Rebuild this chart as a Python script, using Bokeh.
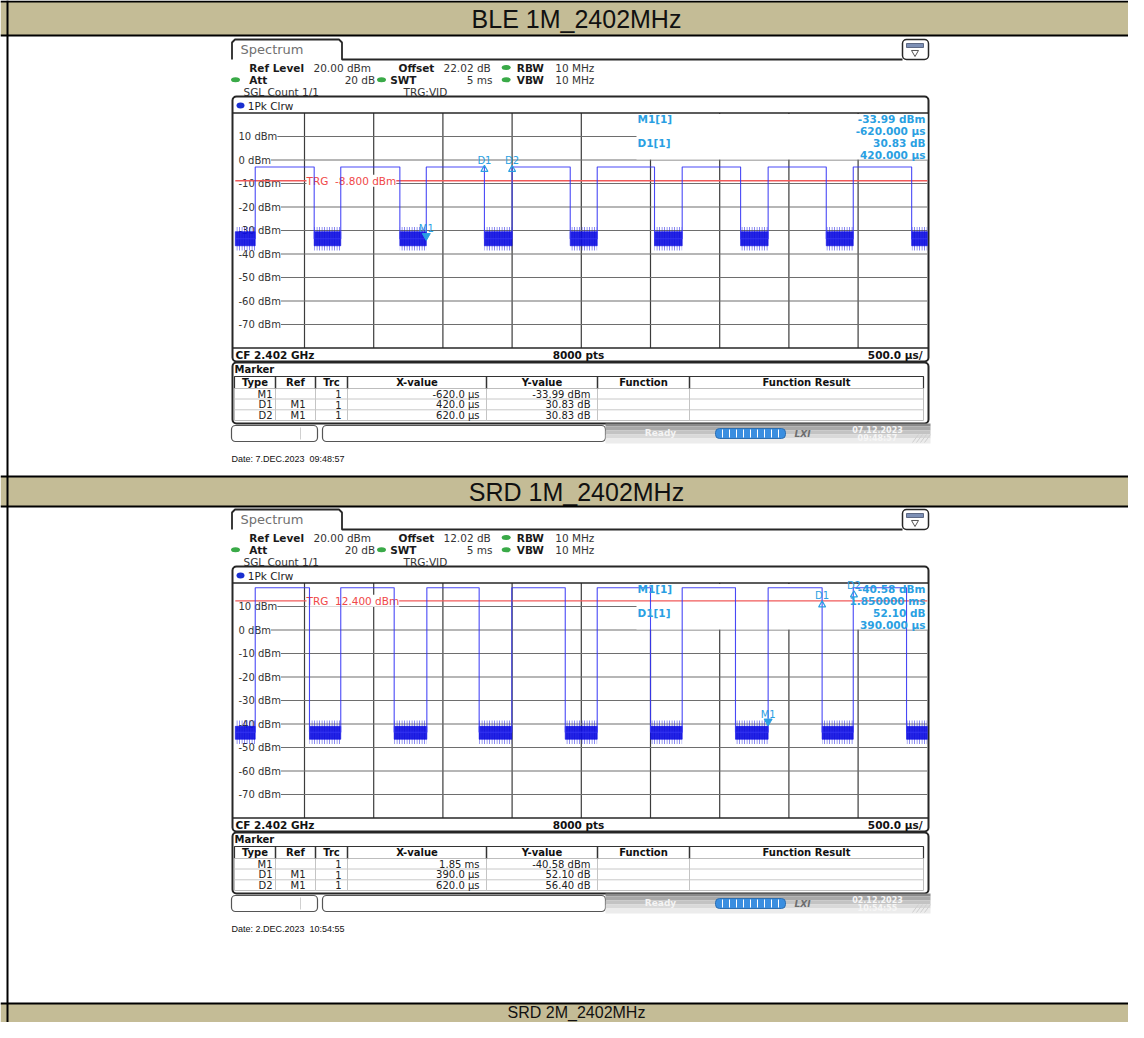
from bokeh.plotting import figure
from bokeh.models import Range1d
from bokeh.core.properties import value
from bokeh.embed import file_html
from bokeh.resources import INLINE

# ------------------------------------------------------------------ data
section_titles = ["BLE 1M_2402MHz", "SRD 1M_2402MHz", "SRD 2M_2402MHz"]

level_ticks_dbm = [10, 0, -10, -20, -30, -40, -50, -60, -70]
level_tick_labels = ["10 dBm", "0 dBm", "-10 dBm", "-20 dBm", "-30 dBm",
                     "-40 dBm", "-50 dBm", "-60 dBm", "-70 dBm"]
time_grid_us = [-1500, -1000, -500, 0, 500, 1000, 1500, 2000, 2500]

# BLE 1M trace (time relative to trigger, µs)
ble_rise_us = [-1856, -1238, -620, 0, 615, 1229, 1850, 2465]
ble_fall_us = [-1430, -811, -200, 420, 1029, 1651, 2270, 2887]
ble_high_dbm = -3.0
ble_low_dbm = -33.5
ble_noise_core_dbm = [-36.5, -30.5]
ble_noise_span_dbm = [-38.5, -28.5]
ble_trg_dbm = -8.8
ble_marker_names = ["M1", "D1", "D2"]
ble_marker_us = [-620, -200, 0]
ble_marker_dbm = [-33.99, -3.16, -3.16]
ble_info = ["M1[1]", "-33.99 dBm", "-620.000 µs", "D1[1]", "30.83 dB", "420.000 µs"]
ble_table = [["M1", "", "1", "-620.0 µs", "-33.99 dBm"],
             ["D1", "M1", "1", "420.0 µs", "30.83 dB"],
             ["D2", "M1", "1", "620.0 µs", "30.83 dB"]]
ble_offset = "22.02 dB"
ble_date = "Date: 7.DEC.2023 \u00a009:48:57"
ble_status = ["07.12.2023", "09:48:57"]

# SRD 1M trace
srd_rise_us = [-1856, -1238, -616, -2, 615, 1229, 1850, 2465]
srd_fall_us = [-1464, -852, -238, 384, 1000, 1614, 2240, 2850]
srd_high_dbm = 18.0
srd_low_dbm = -43.5
srd_noise_core_dbm = [-46.5, -41.0]
srd_noise_span_dbm = [-48.5, -38.5]
srd_trg_dbm = 12.4
srd_marker_names = ["M1", "D1", "D2"]
srd_marker_us = [1850, 2240, 2470]
srd_marker_dbm = [-40.58, 11.52, 15.82]
srd_info = ["M1[1]", "-40.58 dBm", "1.850000 ms", "D1[1]", "52.10 dB", "390.000 µs"]
srd_table = [["M1", "", "1", "1.85 ms", "-40.58 dBm"],
             ["D1", "M1", "1", "390.0 µs", "52.10 dB"],
             ["D2", "M1", "1", "620.0 µs", "56.40 dB"]]
srd_offset = "12.02 dB"
srd_date = "Date: 2.DEC.2023 \u00a010:54:55"
srd_status = ["02.12.2023", "10:54:55"]

# ------------------------------------------------------------------ geometry
PX0, PX1, PY0, PY1 = 0, 1128, 0, 1022
GRID_L, GRID_R = 234.8, 926.8
GRID_T, GRID_B = 112.5, 347.5
T_START, T_SPAN = -2000.0, 5000.0
DB_TOP, DB_BOT = 20.0, -80.0
US_PER_PX = T_SPAN / (GRID_R - GRID_L)
PX_PER_DB = (GRID_B - GRID_T) / (DB_TOP - DB_BOT)

TRACE = "#3535f5"
NOISE = "#0c0ce0"
MARK = "#2a9fe2"
DARK = "#262626"
TAN = "#C4BC96"

p = figure(width=PX1 - PX0, height=PY1 - PY0,
           x_range=Range1d(PX0, PX1), y_range=Range1d(PY1, PY0),
           output_backend="svg", toolbar_location=None,
           x_axis_type=None, y_axis_type=None, min_border=0,
           outline_line_color=None, background_fill_color="white")

p.extra_x_ranges = {"t": Range1d(T_START - (GRID_L - PX0) * US_PER_PX,
                                 T_START + T_SPAN + (PX1 - GRID_R) * US_PER_PX)}
yrs = {}
for k, oy in enumerate([0, 470]):
    top_px, bot_px = GRID_T + oy, GRID_B + oy
    yrs[f"db{k}"] = Range1d(DB_BOT - (PY1 - bot_px) / PX_PER_DB,
                            DB_TOP + (top_px - PY0) / PX_PER_DB)
p.extra_y_ranges = yrs


def txt(x, y, s, size=10, color="#1a1a1a", bold=False, align="left",
        font="DejaVu Sans", bg=None, xr="default", yr="default", italic=False):
    style = "bold" if bold else "normal"
    if italic:
        style = "bold italic" if bold else "italic"
    kw = {}
    if bg:
        kw["background_fill_color"] = bg
    p.text(x=[x], y=[y], text=[s], text_font=value(font),
           text_font_size=value(f"{size}px"), text_font_style=style,
           text_color=color, text_align=align, text_baseline="middle",
           x_range_name=xr, y_range_name=yr, **kw)


def box(l, r, t, b, fill=None, line=None, lw=1.0, radius=0):
    p.quad(left=[l], right=[r], top=[t], bottom=[b],
           fill_color=fill if fill else "white", fill_alpha=1 if fill else 0,
           line_color=line, line_alpha=1 if line else 0, line_width=lw,
           border_radius=radius)


def seg(x0, y0, x1, y1, color=DARK, lw=1.0):
    p.segment(x0=[x0], y0=[y0], x1=[x1], y1=[y1], line_color=color, line_width=lw)


# ------------------------------------------------------------------ document table
band_rows = [(1, 35, 18, 25), (476, 506, 491, 25), (1003, 1040, 1012, 16)]
for (t, b, cy, fs), title in zip(band_rows, section_titles):
    box(0, 1144, t, b, fill=TAN)
    txt(576, cy, title, fs, "#111111", font="Liberation Sans", align="center")
for y in [1, 35, 476, 506, 1003]:
    seg(0, y, 1144, y, "#000000", 2)
seg(7, 0, 7, 1040, "#000000", 2)


# ------------------------------------------------------------------ one analyzer screen
def draw_screen(k, oy, rise, fall, high, low, core, span, trg, mnames, mus, mdb,
                info, table, offset, date, status):
    yr = f"db{k}"
    # tab + icon
    p.line([231.5, 231.5, 234.5, 338.5, 341.5, 341.5, 902],
           [59 + oy, 42 + oy, 39 + oy, 39 + oy, 42 + oy, 59 + oy, 59 + oy],
           line_color=DARK, line_width=1.8)
    txt(240, 49 + oy, "Spectrum", 13, "#707070")
    box(902, 928, 39 + oy, 59 + oy, fill="white", line=DARK, lw=1.5, radius=4)
    box(906, 923, 43 + oy, 47 + oy, fill="#7c8fb5", line="#44516e", lw=0.8)
    p.scatter(x=[914.5], y=[52 + oy], marker="inverted_triangle", size=7,
              fill_color="white", line_color="#555555")
    # header settings
    r1, r2, r3 = 67 + oy, 79.3 + oy, 91 + oy
    txt(248.7, r1, "Ref Level", 10.5, bold=True)
    txt(313, r1, "20.00 dBm", 10.5, "#333333")
    txt(398, r1, "Offset", 10.5, bold=True)
    txt(443, r1, offset, 10.5, "#333333")
    txt(248.7, r2, "Att", 10.5, bold=True)
    txt(374.7, r2, "20 dB", 10.5, "#333333", align="right")
    txt(389.7, r2, "SWT", 10.5, bold=True)
    txt(492, r2, "5 ms", 10.5, "#333333", align="right")
    for yy, lab in [(r1, "RBW"), (r2, "VBW")]:
        txt(516.3, yy, lab, 10.5, bold=True)
        txt(554.7, yy, "10 MHz", 10.5, "#333333")
    p.ellipse(x=[235, 381, 505.7, 505.7], y=[r2, r2, r1, r2], width=9, height=5,
              fill_color="#3aaa48", line_color=None)
    txt(243, r3, "SGL Count 1/1", 10.5, "#333333")
    txt(403, r3, "TRG:VID", 10.5, "#333333")

    # diagram frame
    box(232, 928, 96 + oy, 361 + oy, fill="white", line=DARK, lw=2, radius=4)
    p.ellipse(x=[240], y=[105 + oy], width=8, height=6, fill_color="#1a2fd0", line_color=None)
    txt(247.3, 105 + oy, "1Pk Clrw", 10.5, "#222222")

    # grid
    p.segment(x0=time_grid_us, x1=time_grid_us, y0=[DB_BOT] * 9, y1=[DB_TOP] * 9,
              line_color="#3c3c3c", line_width=1.2, x_range_name="t", y_range_name=yr)
    gl = T_START
    gr = T_START + T_SPAN
    p.segment(x0=[gl] * 9, x1=[gr] * 9, y0=level_ticks_dbm, y1=level_ticks_dbm,
              line_color="#6e6e6e", line_width=1.2, x_range_name="t", y_range_name=yr)
    box(233.5, 239, GRID_T + 1 + oy, GRID_B - 1 + oy, fill="white")
    p.text(x=[238] * 9, y=level_ticks_dbm, text=level_tick_labels,
           text_font=value("DejaVu Sans"), text_font_size=value("10px"),
           text_color="#333333", text_baseline="middle", text_align="left",
           background_fill_color="white", y_range_name=yr)
    seg(232, GRID_T + oy, 928, GRID_T + oy, DARK, 1.5)
    seg(232, GRID_B + oy, 928, GRID_B + oy, DARK, 1.5)

    # marker info area
    box(636, 927, GRID_T + 1 + oy, GRID_T + 46.5 + oy, fill="white")

    # trigger level
    p.segment(x0=[gl], x1=[gr], y0=[trg], y1=[trg], line_color="#f05a5a",
              line_width=1.4, x_range_name="t", y_range_name=yr)
    txt(306, trg, f"TRG \u00a0{trg:.3f} dBm", 10.5, "#f04848", bg="white", yr=yr)

    # trace: noise floor segments
    lows_l = [gl] + list(fall)
    lows_r = list(rise) + [gr]
    p.quad(left=lows_l, right=lows_r, top=[span[1]] * len(lows_l), bottom=[span[0]] * len(lows_l),
           fill_alpha=0, line_alpha=0, hatch_pattern="vertical_line", hatch_color=NOISE,
           hatch_scale=2.5, hatch_weight=1, hatch_alpha=0.6,
           x_range_name="t", y_range_name=yr)
    p.quad(left=lows_l, right=lows_r, top=[core[1]] * len(lows_l), bottom=[core[0]] * len(lows_l),
           fill_color=NOISE, fill_alpha=0.9, line_color=NOISE, line_width=0.6,
           x_range_name="t", y_range_name=yr)
    xs, ys = [gl], [low]
    for r, f in zip(rise, fall):
        xs += [r, r, f, f]
        ys += [low, high, high, low]
    xs.append(gr)
    ys.append(low)
    p.line(xs, ys, line_color=TRACE, line_width=1.1, line_alpha=0.9,
           x_range_name="t", y_range_name=yr)

    # markers
    p.scatter(x=[mus[0]], y=[mdb[0] + 4.0 / PX_PER_DB], marker="inverted_triangle", size=8,
              fill_color=MARK, line_color=MARK, x_range_name="t", y_range_name=yr)
    p.scatter(x=mus[1:], y=[v - 2.0 / PX_PER_DB for v in mdb[1:]], marker="triangle", size=7,
              fill_alpha=0, line_color=MARK, line_width=1.2, x_range_name="t", y_range_name=yr)
    p.text(x=mus, y=mdb, text=mnames, text_font=value("DejaVu Sans"),
           text_font_size=value("10px"), text_color=MARK, text_align="center",
           text_baseline="middle", y_offset=[-11, -7, -7],
           x_range_name="t", y_range_name=yr)

    # marker info text
    iy = [GRID_T + 5.5 + oy + 12 * i for i in range(4)]
    txt(637, iy[0], info[0], 10.5, MARK, bold=True)
    txt(637, iy[2], info[3], 10.5, MARK, bold=True)
    for i, s in enumerate([info[1], info[2], info[4], info[5]]):
        txt(925, iy[i], s, 10.5, MARK, bold=True, align="right")

    # bottom bar of diagram
    cy = 354.5 + oy
    txt(235, cy, "CF 2.402 GHz", 10.5, "#111111", bold=True)
    txt(578, cy, "8000 pts", 10.5, "#111111", bold=True, align="center")
    txt(922, cy, "500.0 µs/", 10.5, "#111111", bold=True, align="right")

    # marker table
    box(232, 928, 362 + oy, 423 + oy, fill="white", line=DARK, lw=2, radius=4)
    txt(234, 368.5 + oy, "Marker", 10, "#111111", bold=True)
    colx = [234, 275, 315, 347, 486, 597, 689, 923]
    box(234, 923, 376 + oy, 388 + oy, fill="white", line="#333333", lw=1.2)
    box(234, 923, 388 + oy, 420 + oy, fill="white", line="#bdbdbd", lw=1)
    for x in colx[1:-1]:
        seg(x, 376 + oy, x, 388 + oy, "#333333", 1.5)
        seg(x, 388 + oy, x, 420 + oy, "#c4c4c4", 1)
    for y in [398.5, 409.3]:
        seg(234, y + oy, 923, y + oy, "#c8c8c8", 1)
    heads = ["Type", "Ref", "Trc", "X-value", "Y-value", "Function", "Function Result"]
    for i, h in enumerate(heads):
        txt((colx[i] + colx[i + 1]) / 2, 382 + oy, h, 10, "#111111", bold=True, align="center")
    rights = [272, 305, 341, 479, 590]
    for j, row in enumerate(table):
        yy = [393.5, 404, 414.7][j] + oy
        for i, v in enumerate(row):
            if v:
                txt(rights[i], yy, v, 10, "#222222", align="right")

    # instrument status bar
    box(231, 317, 425 + oy, 441 + oy, fill="white", line="#555555", lw=1.2, radius=4)
    seg(300, 427 + oy, 300, 439 + oy, "#d0d0d0", 1)
    box(322, 605, 425 + oy, 441 + oy, fill="white", line="#555555", lw=1.2, radius=4)
    for (a, b), c in zip([(423, 426), (426, 430), (430, 434), (434, 438), (438, 443)],
                         ["#8a8a8a", "#a9a9a9", "#c3c3c3", "#d9d9d9", "#ececec"]):
        box(605, 930, a + oy, b + oy, fill=c)
    txt(660, 432.5 + oy, "Ready", 9, "#f4f4f4", bold=True, align="center")
    box(715, 785, 428 + oy, 438 + oy, fill="#3a8ee0", line="#2f6fb0", lw=1, radius=4)
    p.segment(x0=[722 + 7 * i for i in range(9)], x1=[722 + 7 * i for i in range(9)],
              y0=[429 + oy] * 9, y1=[437 + oy] * 9, line_color="white", line_width=1)
    txt(802, 433 + oy, "LXI", 9, "#6e6e6e", bold=True, italic=True, align="center")
    txt(877, 428.5 + oy, status[0], 8, "#f6f6f6", bold=True, align="center")
    txt(877, 437.5 + oy, status[1], 8, "#f6f6f6", bold=True, align="center")
    p.segment(x0=[912, 916, 920, 924], x1=[918, 922, 926, 930],
              y0=[442 + oy] * 4, y1=[434 + oy] * 4, line_color="#cfcfcf", line_width=1)

    # capture date
    txt(231, 458 + oy, date, 9, "#111111", font="Liberation Sans")


draw_screen(0, 0, ble_rise_us, ble_fall_us, ble_high_dbm, ble_low_dbm,
            ble_noise_core_dbm, ble_noise_span_dbm, ble_trg_dbm,
            ble_marker_names, ble_marker_us, ble_marker_dbm, ble_info, ble_table,
            ble_offset, ble_date, ble_status)
draw_screen(1, 470, srd_rise_us, srd_fall_us, srd_high_dbm, srd_low_dbm,
            srd_noise_core_dbm, srd_noise_span_dbm, srd_trg_dbm,
            srd_marker_names, srd_marker_us, srd_marker_dbm, srd_info, srd_table,
            srd_offset, srd_date, srd_status)

open("out.html", "w").write(file_html(p, INLINE))
